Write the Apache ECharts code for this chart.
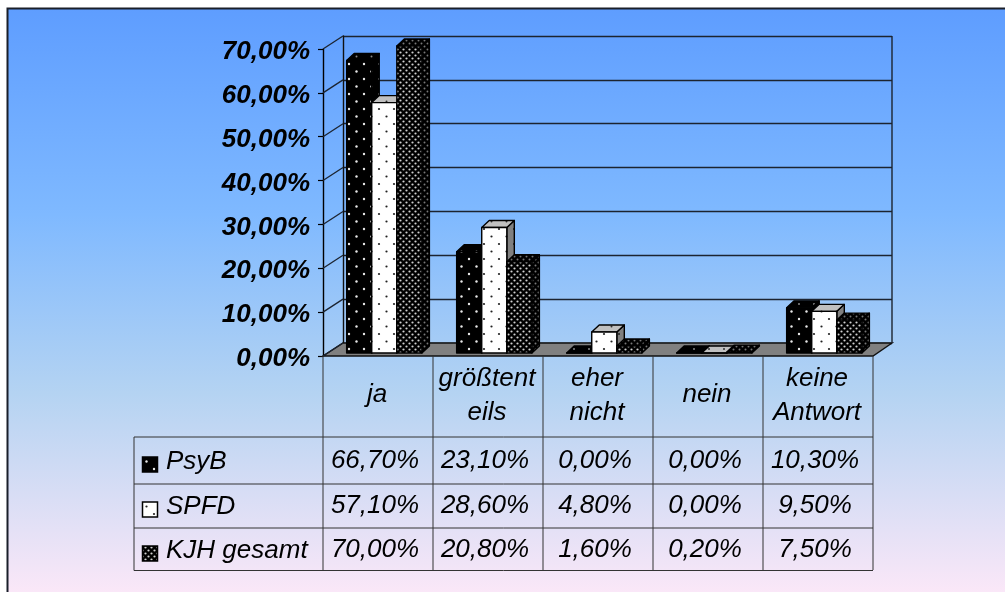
<!DOCTYPE html>
<html><head><meta charset="utf-8">
<style>html,body{margin:0;padding:0;background:#fff}#c{position:absolute;left:0;top:0;width:1005px;height:592px}</style>
<script src="https://cdn.jsdelivr.net/npm/echarts@6/dist/echarts.min.js"></script>
</head><body><div id="c"></div>
<script>
const categories = ['ja', 'größtent\neils', 'eher\nnicht', 'nein', 'keine\nAntwort'];
const seriesNames = ['PsyB', 'SPFD', 'KJH gesamt'];
const psyB = [66.7, 23.1, 0, 0, 10.3];
const spfd = [57.1, 28.6, 4.8, 0, 9.5];
const kjh = [70, 20.8, 1.6, 0.2, 7.5];
const yTicks = [0, 10, 20, 30, 40, 50, 60, 70];

function pat(w, h, bg, fg, pts, r) {
  const c = document.createElement('canvas'); c.width = w; c.height = h;
  const g = c.getContext('2d'); g.fillStyle = bg; g.fillRect(0, 0, w, h); g.fillStyle = fg;
  pts.forEach(p => { g.beginPath(); g.arc(p[0], p[1], r, 0, Math.PI * 2); g.fill(); });
  return { image: c, repeat: 'repeat' };
}
const sparse = [[4, 4], [11.5, 11.5]];
const dense = [[1.5, 1.5], [4.5, 4.5]];
const P = [
  { front: pat(15, 15, '#000', '#e8e8e8', sparse, 1.2), top: pat(15, 15, '#000', '#888', sparse, 1), side: pat(15, 15, '#000', '#888', sparse, 1) },
  { front: pat(15, 15, '#fff', '#222', sparse, 1.1), top: pat(15, 15, '#c0c0c0', '#333', sparse, 1), side: pat(15, 15, '#808080', '#222', sparse, 1) },
  { front: pat(6, 6, '#000', '#d0d0d0', dense, 1.1), top: pat(6, 6, '#000', '#777', dense, 1), side: pat(6, 6, '#000', '#777', dense, 1) }
];
const stroke = { stroke: '#000', lineWidth: 1.4, lineJoin: 'round' };

function barSeries(idx, values) {
  return {
    type: 'custom', name: seriesNames[idx], xAxisIndex: 0, yAxisIndex: 0, z: 5 + idx, clip: false,
    data: values.map((v, i) => [i, v]),
    renderItem(params, api) {
      const c = api.coord([api.value(0), api.value(1)]);
      const base = api.coord([api.value(0), 0]);
      const band = api.size([1, 0])[0];
      const bw = band * 0.228, dx = 7.5, dy = 7;
      const x0 = base[0] - band / 2 + band * 0.215 + idx * bw;
      const x1 = x0 + bw, yb = base[1] - 3, yt = c[1] - 3;
      const pts = (a) => ({ points: a });
      return { type: 'group', children: [
        { type: 'polygon', shape: pts([[x1, yb], [x1 + dx, yb - dy], [x1 + dx, yt - dy], [x1, yt]]), style: Object.assign({ fill: P[idx].side }, stroke) },
        { type: 'polygon', shape: pts([[x0, yt], [x0 + dx, yt - dy], [x1 + dx, yt - dy], [x1, yt]]), style: Object.assign({ fill: P[idx].top }, stroke) },
        { type: 'polygon', shape: pts([[x0, yb], [x1, yb], [x1, yt], [x0, yt]]), style: Object.assign({ fill: P[idx].front }, stroke) }
      ] };
    }
  };
}

const lineColor = '#1c2430';
const chart = echarts.init(document.getElementById('c'), null, { renderer: 'canvas', width: 1005, height: 592 });
chart.setOption({
  animation: false,
  backgroundColor: 'transparent',
  graphic: [{
    type: 'rect', z: -10, silent: true,
    shape: { x: 7.5, y: 8.5, width: 1000, height: 590 },
    style: {
      fill: new echarts.graphic.LinearGradient(0, 0, 0, 1, [
        { offset: 0, color: '#5e9dff' }, { offset: 0.35, color: '#7fb9ff' },
        { offset: 0.65, color: '#b4d3f2' }, { offset: 1, color: '#fde8f8' }]),
      stroke: '#1a1f2a', lineWidth: 2
    }
  }],
  grid: [
    { left: 323, width: 550, top: 49, height: 307, containLabel: false },
    { left: 343, width: 549, top: 36, height: 307 }
  ],
  xAxis: [
    { type: 'category', gridIndex: 0, data: categories, boundaryGap: true,
      axisLine: { show: false }, axisTick: { show: false }, splitLine: { show: false },
      axisLabel: { show: false } },
    { type: 'category', gridIndex: 1, data: categories, show: false }
  ],
  yAxis: [
    { type: 'value', gridIndex: 0, min: 0, max: 70, interval: 10,
      axisLine: { show: true, lineStyle: { color: '#000', width: 1.4 } },
      axisTick: { show: true, length: 5, lineStyle: { color: '#000', width: 1.2 } },
      splitLine: { show: false },
      axisLabel: { margin: 13, color: '#000',
        formatter: v => '{a|' + v.toFixed(2).replace('.', ',') + '%}',
        rich: { a: { padding: [6, 0, 0, 0], fontFamily: 'Liberation Sans', fontStyle: 'italic', fontWeight: 'bold', fontSize: 26, color: '#000' } } } },
    { type: 'value', gridIndex: 1, min: 0, max: 70, interval: 10,
      axisLine: { show: true, lineStyle: { color: '#111', width: 1.4 } },
      axisTick: { show: false }, axisLabel: { show: false },
      splitLine: { show: true, lineStyle: { color: lineColor, width: 1.4 } } }
  ],
  series: [
    { // left wall slants, floor, right edge
      type: 'custom', xAxisIndex: 0, yAxisIndex: 0, z: 2, clip: false, silent: true,
      data: yTicks.map(v => [0, v]),
      renderItem(params, api) {
        const v = api.value(1);
        const band = api.size([1, 0])[0];
        const c = api.coord([0, v]);
        const f = [c[0] - band / 2, c[1]];
        const back = [f[0] + 20, f[1] - 13];
        const kids = [{ type: 'line', shape: { x1: f[0], y1: f[1], x2: back[0], y2: back[1] }, style: { stroke: lineColor, lineWidth: 1.3 } }];
        const rc = api.coord([4, v]);
        const rx = rc[0] + band / 2;
        if (v === 0) {
          kids.unshift({ type: 'polygon', shape: { points: [f, [rx, f[1]], [rx + 19, back[1]], back] },
            style: { fill: '#808080', stroke: '#111', lineWidth: 1.4 } });
          const t = api.coord([4, 70]);
          kids.push({ type: 'line', shape: { x1: rx + 19, y1: back[1], x2: rx + 19, y2: t[1] - 13 }, style: { stroke: lineColor, lineWidth: 1.4 } });
        }
        return { type: 'group', children: kids };
      }
    },
    barSeries(0, psyB), barSeries(1, spfd), barSeries(2, kjh),
    { // category columns of the table
      type: 'custom', xAxisIndex: 0, yAxisIndex: 0, z: 12, clip: false, silent: true,
      data: categories.map((c, i) => [i, 0]),
      renderItem(params, api) {
        const i = api.value(0), c = api.coord([i, 0]), band = api.size([1, 0])[0];
        const x = c[0] - band / 2;
        const font = 'italic 26px "Liberation Sans"';
        const kids = [];
        if (i > 0) kids.push({ type: 'line', shape: { x1: x, y1: 356, x2: x, y2: 570 }, style: { stroke: '#333', lineWidth: 1 } });
        if (i === 4) kids.push({ type: 'line', shape: { x1: x + band, y1: 356, x2: x + band, y2: 570 }, style: { stroke: '#333', lineWidth: 1 } });
        const parts = categories[i].split('\n');
        parts.forEach((p, k) => {
          kids.push({ type: 'text', style: { x: c[0] - 1, y: parts.length === 1 ? 395 : 379 + k * 34, text: p, align: 'center', verticalAlign: 'middle', font, fill: '#000' } });
        });
        [psyB, spfd, kjh].forEach((arr, r) => {
          kids.push({ type: 'text', style: { x: c[0] - 3, y: [461, 506, 550][r], text: arr[i].toFixed(2).replace('.', ',') + '%',
            align: 'center', verticalAlign: 'middle', font, fill: '#000' } });
        });
        return { type: 'group', children: kids };
      }
    },
    { // row labels and legend keys
      type: 'custom', xAxisIndex: 0, yAxisIndex: 0, z: 12, clip: false, silent: true,
      data: seriesNames.map((n, r) => [0, r]),
      renderItem(params, api) {
        const r = params.dataIndex, ys = [461, 506, 550], y = ys[r];
        const lines = [[134, 437, 873, 437], [134, 484, 873, 484], [134, 528, 873, 528], [134, 570.5, 873, 570.5], [134, 437, 134, 570.5], [323, 356, 323, 570.5]];
        const kids = [
          { type: 'rect', shape: { x: 142.5, y: y - 4, width: 15, height: 15 }, style: { fill: P[r].front, stroke: '#000', lineWidth: 1.5 } },
          { type: 'text', style: { x: 166, y: y + 1, text: seriesNames[r], align: 'left', verticalAlign: 'middle', font: 'italic 26px "Liberation Sans"', fill: '#000' } }
        ];
        if (r === 0) lines.forEach(l => kids.push({ type: 'line', shape: { x1: l[0], y1: l[1], x2: l[2], y2: l[3] }, style: { stroke: '#333', lineWidth: 1 } }));
        return { type: 'group', children: kids };
      }
    }
  ]
});
</script></body></html>
